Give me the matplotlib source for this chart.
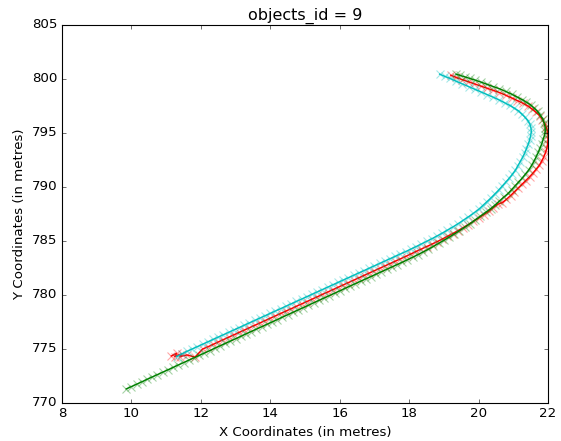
import numpy as np
import matplotlib
matplotlib.use('Agg')
import matplotlib.pyplot as plt

# trajectories (x, y in metres)
green_x = [9.85, 10.00, 10.15, 10.30, 10.45, 10.60, 10.75, 10.90, 11.05, 11.20, 11.35, 11.50, 11.65, 11.80,
           11.95, 12.10, 12.25, 12.40, 12.55, 12.70, 12.85, 13.00, 13.15, 13.30, 13.45, 13.60, 13.75, 13.90,
           14.05, 14.20, 14.35, 14.50, 14.65, 14.80, 14.95, 15.10, 15.25, 15.40, 15.55, 15.70, 15.85, 16.00,
           16.15, 16.30, 16.45, 16.60, 16.75, 16.90, 17.05, 17.20, 17.35, 17.50, 17.65, 17.80, 17.95, 18.10,
           18.25, 18.40, 18.55, 18.70, 18.85, 19.00, 19.15, 19.30, 19.45, 19.60, 19.75, 19.90, 20.05, 20.20,
           20.35, 20.48, 20.60, 20.72, 20.85, 20.95, 21.05, 21.15, 21.25, 21.35, 21.45, 21.53, 21.60, 21.66,
           21.72, 21.77, 21.82, 21.86, 21.90, 21.92, 21.92, 21.89, 21.85, 21.78, 21.70, 21.60, 21.50, 21.38,
           21.25, 21.10, 20.95, 20.78, 20.60, 20.42, 20.25, 20.08, 19.90, 19.75, 19.60, 19.47, 19.35]
green_y = [771.30, 771.52, 771.74, 771.96, 772.19, 772.41, 772.63, 772.85, 773.07, 773.29, 773.52, 773.74,
           773.96, 774.18, 774.40, 774.62, 774.84, 775.07, 775.29, 775.51, 775.73, 775.95, 776.17, 776.40,
           776.62, 776.84, 777.06, 777.28, 777.50, 777.72, 777.95, 778.17, 778.39, 778.61, 778.83, 779.05,
           779.28, 779.50, 779.72, 779.94, 780.16, 780.38, 780.61, 780.83, 781.05, 781.27, 781.49, 781.71,
           781.93, 782.15, 782.37, 782.59, 782.81, 783.03, 783.26, 783.49, 783.73, 783.98, 784.23, 784.50,
           784.78, 785.06, 785.35, 785.65, 785.95, 786.27, 786.60, 786.95, 787.30, 787.65, 788.00, 788.35,
           788.70, 789.05, 789.40, 789.75, 790.10, 790.45, 790.80, 791.20, 791.60, 792.00, 792.40, 792.80,
           793.20, 793.60, 794.00, 794.40, 794.80, 795.15, 795.50, 795.90, 796.30, 796.65, 797.00, 797.30,
           797.60, 797.85, 798.10, 798.35, 798.60, 798.85, 799.10, 799.30, 799.50, 799.70, 799.90, 800.05,
           800.20, 800.33, 800.45]

red_x = [11.15, 11.30, 11.25, 11.45, 11.40, 11.60, 11.83, 12.05, 12.20, 12.35, 12.50, 12.65, 12.80, 12.95,
         13.10, 13.25, 13.40, 13.55, 13.70, 13.85, 14.00, 14.15, 14.30, 14.45, 14.60, 14.75, 14.90, 15.05,
         15.20, 15.35, 15.50, 15.65, 15.80, 15.95, 16.10, 16.25, 16.40, 16.55, 16.70, 16.85, 17.00, 17.15,
         17.30, 17.45, 17.60, 17.75, 17.90, 18.05, 18.20, 18.35, 18.50, 18.65, 18.80, 18.95, 19.10, 19.25,
         19.40, 19.55, 19.70, 19.85, 20.00, 20.15, 20.30, 20.42, 20.55, 20.68, 20.80, 20.92, 21.03, 21.14,
         21.25, 21.36, 21.47, 21.57, 21.66, 21.75, 21.82, 21.88, 21.93, 21.97, 21.99, 22.00, 22.00, 21.98,
         21.95, 21.90, 21.84, 21.76, 21.66, 21.55, 21.42, 21.28, 21.12, 20.95, 20.78, 20.60, 20.42, 20.24,
         20.06, 19.88, 19.70, 19.52, 19.35, 19.20]
red_y = [774.35, 774.60, 774.30, 774.55, 774.30, 774.45, 774.25, 775.00, 775.20, 775.42, 775.65, 775.87,
         776.09, 776.31, 776.53, 776.75, 776.97, 777.19, 777.41, 777.63, 777.85, 778.07, 778.29, 778.51,
         778.73, 778.95, 779.17, 779.39, 779.61, 779.83, 780.05, 780.27, 780.49, 780.71, 780.93, 781.15,
         781.37, 781.59, 781.81, 782.03, 782.25, 782.47, 782.69, 782.91, 783.13, 783.35, 783.57, 783.80,
         784.03, 784.25, 784.48, 784.70, 784.93, 785.17, 785.42, 785.68, 785.95, 786.23, 786.52, 786.82,
         787.12, 787.45, 787.78, 788.10, 788.40, 788.55, 788.85, 789.20, 789.55, 789.90, 790.25, 790.60,
         790.95, 791.30, 791.65, 792.00, 792.40, 792.80, 793.20, 793.60, 794.00, 794.40, 794.80, 795.20,
         795.55, 795.90, 796.25, 796.60, 796.90, 797.20, 797.50, 797.75, 798.00, 798.25, 798.50, 798.75,
         798.95, 799.15, 799.35, 799.55, 799.75, 799.95, 800.15, 800.35]

cyan_x = [11.30, 11.45, 11.60, 11.75, 11.90, 12.05, 12.20, 12.35, 12.50, 12.65, 12.80, 12.95, 13.10, 13.25,
          13.40, 13.55, 13.70, 13.85, 14.00, 14.15, 14.30, 14.45, 14.60, 14.75, 14.90, 15.05, 15.20, 15.35,
          15.50, 15.65, 15.80, 15.95, 16.10, 16.25, 16.40, 16.55, 16.70, 16.85, 17.00, 17.15, 17.30, 17.45,
          17.60, 17.75, 17.90, 18.05, 18.20, 18.35, 18.50, 18.65, 18.80, 18.95, 19.10, 19.25, 19.40, 19.55,
          19.70, 19.85, 20.00, 20.12, 20.24, 20.36, 20.47, 20.58, 20.68, 20.78, 20.88, 20.97, 21.06, 21.13,
          21.20, 21.27, 21.33, 21.38, 21.43, 21.47, 21.50, 21.52, 21.51, 21.48, 21.42, 21.34, 21.25, 21.15,
          21.03, 20.90, 20.75, 20.60, 20.43, 20.25, 20.07, 19.89, 19.71, 19.53, 19.35, 19.18, 19.02, 18.88]
cyan_y = [774.30, 774.55, 774.78, 775.00, 775.22, 775.44, 775.66, 775.88, 776.10, 776.32, 776.54, 776.76,
          776.98, 777.20, 777.42, 777.64, 777.86, 778.08, 778.30, 778.52, 778.74, 778.96, 779.18, 779.40,
          779.62, 779.84, 780.06, 780.28, 780.50, 780.72, 780.94, 781.16, 781.38, 781.60, 781.82, 782.04,
          782.26, 782.48, 782.70, 782.92, 783.14, 783.36, 783.58, 783.80, 784.02, 784.25, 784.48, 784.72,
          784.96, 785.20, 785.46, 785.72, 786.00, 786.28, 786.58, 786.90, 787.22, 787.56, 787.92, 788.28,
          788.64, 789.00, 789.36, 789.72, 790.08, 790.44, 790.80, 791.16, 791.55, 791.95, 792.35, 792.75,
          793.15, 793.55, 793.95, 794.35, 794.75, 795.10, 795.45, 795.80, 796.15, 796.45, 796.75, 797.05,
          797.30, 797.55, 797.80, 798.05, 798.30, 798.55, 798.80, 799.05, 799.30, 799.55, 799.80, 800.05,
          800.25, 800.45]

plt.style.use('classic')
fig = plt.figure(figsize=(561/80, 441/80), dpi=80, facecolor='white')
ax = fig.add_axes([62/561, 1-403/441, 486/561, 378/441])

for xs, ys, c in [(red_x, red_y, 'r'), (green_x, green_y, 'g'), (cyan_x, cyan_y, 'c')]:
    ax.plot(xs, ys, color=c, lw=1.3)
    ax.plot(xs, ys, 'x', color=c, alpha=0.35, ms=7, mew=1, mec=c)

ax.set_xlim(8, 22)
ax.set_ylim(770, 805)
ax.set_xticks(np.arange(8, 23, 2))
ax.set_yticks(np.arange(770, 806, 5))
ax.set_title('objects_id = 9')
ax.set_xlabel('X Coordinates (in metres)')
ax.set_ylabel('Y Coordinates (in metres)')
fig.savefig('out.png', dpi=80, facecolor='white')
